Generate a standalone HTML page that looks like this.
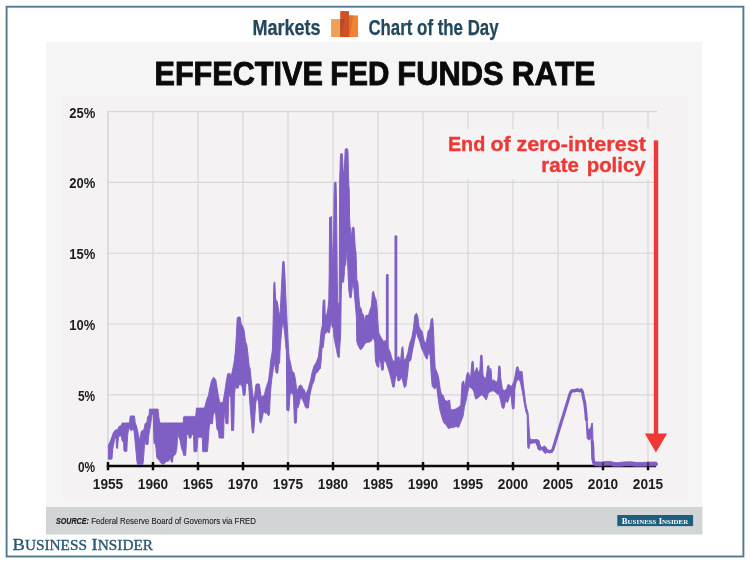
<!DOCTYPE html>
<html><head><meta charset="utf-8"><title>Effective Fed Funds Rate</title>
<style>
html,body{margin:0;padding:0;background:#fff;}
svg{display:block;will-change:transform;}
text{font-family:"Liberation Sans",sans-serif;}
.serif{font-family:"Liberation Serif",serif;}
</style></head><body>
<svg width="750" height="563" viewBox="0 0 750 563">
<rect x="0" y="0" width="750" height="563" fill="#ffffff"/>
<rect x="6.6" y="6.7" width="736.8" height="549.8" fill="none" stroke="#4f7a8f" stroke-width="1.9"/>
<rect x="46" y="42" width="656.3" height="492.5" fill="#f5f5f5"/>
<rect x="61.8" y="96.5" width="625.3" height="401.7" fill="#f4f2f3"/>
<rect x="46" y="507" width="656.3" height="27.5" fill="#d2d5d6"/>
<text x="252.4" y="34.8" font-size="21.6" font-weight="bold" fill="#21485d" stroke="#21485d" stroke-width="0.25" textLength="68.2" lengthAdjust="spacingAndGlyphs">Markets</text>
<g><rect x="331.1" y="19.1" width="9.3" height="18" fill="#f0a055"/><rect x="348.9" y="15.4" width="9.1" height="21.7" fill="#f08432"/><rect x="340.2" y="11.05" width="8.8" height="26.05" fill="#d25029"/><polygon points="340.2,19.1 344.7,19.1 341.2,35.5 340.2,37.1" fill="#b34726" opacity="0.8"/><polygon points="349,15.4 353,15.6 349.9,36.8 349,37.1" fill="#d96f28" opacity="0.85"/></g>
<text x="368.4" y="34.8" font-size="21.6" font-weight="bold" fill="#21485d" stroke="#21485d" stroke-width="0.25" textLength="130.2" lengthAdjust="spacingAndGlyphs">Chart of the Day</text>
<text x="154.5" y="84.6" font-size="33.2" font-weight="bold" fill="#0a0a0a" stroke="#0a0a0a" stroke-width="0.9" textLength="168.4" lengthAdjust="spacingAndGlyphs">EFFECTIVE</text>
<text x="330.2" y="84.6" font-size="33.2" font-weight="bold" fill="#0a0a0a" stroke="#0a0a0a" stroke-width="0.9" textLength="59.2" lengthAdjust="spacingAndGlyphs">FED</text>
<text x="397.3" y="84.6" font-size="33.2" font-weight="bold" fill="#0a0a0a" stroke="#0a0a0a" stroke-width="0.9" textLength="106.2" lengthAdjust="spacingAndGlyphs">FUNDS</text>
<text x="511.8" y="84.6" font-size="33.2" font-weight="bold" fill="#0a0a0a" stroke="#0a0a0a" stroke-width="0.9" textLength="83.6" lengthAdjust="spacingAndGlyphs">RATE</text>
<g><line x1="108.0" y1="111" x2="108.0" y2="466.0" stroke="#ccd0d1" stroke-width="1.2"/><line x1="153.0" y1="111" x2="153.0" y2="466.0" stroke="#d7d7d8" stroke-width="1.2"/><line x1="198.0" y1="111" x2="198.0" y2="466.0" stroke="#d7d7d8" stroke-width="1.2"/><line x1="243.0" y1="111" x2="243.0" y2="466.0" stroke="#d7d7d8" stroke-width="1.2"/><line x1="288.0" y1="111" x2="288.0" y2="466.0" stroke="#d7d7d8" stroke-width="1.2"/><line x1="333.0" y1="111" x2="333.0" y2="466.0" stroke="#d7d7d8" stroke-width="1.2"/><line x1="378.0" y1="111" x2="378.0" y2="466.0" stroke="#d7d7d8" stroke-width="1.2"/><line x1="423.0" y1="111" x2="423.0" y2="466.0" stroke="#d7d7d8" stroke-width="1.2"/><line x1="468.0" y1="111" x2="468.0" y2="466.0" stroke="#d7d7d8" stroke-width="1.2"/><line x1="513.0" y1="111" x2="513.0" y2="466.0" stroke="#d7d7d8" stroke-width="1.2"/><line x1="558.0" y1="111" x2="558.0" y2="466.0" stroke="#d7d7d8" stroke-width="1.2"/><line x1="603.0" y1="111" x2="603.0" y2="466.0" stroke="#d7d7d8" stroke-width="1.2"/><line x1="648.0" y1="111" x2="648.0" y2="466.0" stroke="#d7d7d8" stroke-width="1.2"/><line x1="107.3" y1="111.6" x2="657" y2="111.6" stroke="#d7d7d8" stroke-width="1.15"/><line x1="107.3" y1="182.4" x2="657" y2="182.4" stroke="#d7d7d8" stroke-width="1.15"/><line x1="107.3" y1="253.2" x2="657" y2="253.2" stroke="#d7d7d8" stroke-width="1.15"/><line x1="107.3" y1="324.0" x2="657" y2="324.0" stroke="#d7d7d8" stroke-width="1.15"/><line x1="107.3" y1="394.8" x2="657" y2="394.8" stroke="#d7d7d8" stroke-width="1.15"/></g>
<text x="95.2" y="117.6" font-size="14.4" font-weight="bold" fill="#1e1e1e" text-anchor="end" textLength="26.0" lengthAdjust="spacingAndGlyphs">25%</text>
<text x="95.2" y="188.4" font-size="14.4" font-weight="bold" fill="#1e1e1e" text-anchor="end" textLength="26.0" lengthAdjust="spacingAndGlyphs">20%</text>
<text x="95.2" y="259.2" font-size="14.4" font-weight="bold" fill="#1e1e1e" text-anchor="end" textLength="26.0" lengthAdjust="spacingAndGlyphs">15%</text>
<text x="95.2" y="330.0" font-size="14.4" font-weight="bold" fill="#1e1e1e" text-anchor="end" textLength="26.0" lengthAdjust="spacingAndGlyphs">10%</text>
<text x="95.2" y="400.8" font-size="14.4" font-weight="bold" fill="#1e1e1e" text-anchor="end" textLength="17.2" lengthAdjust="spacingAndGlyphs">5%</text>
<text x="95.2" y="471.6" font-size="14.4" font-weight="bold" fill="#1e1e1e" text-anchor="end" textLength="17.2" lengthAdjust="spacingAndGlyphs">0%</text>
<rect x="443" y="129" width="206.6" height="50.3" fill="#f5f4f5"/>
<g><line x1="106.8" y1="466.0" x2="656" y2="466.0" stroke="#0a0a0a" stroke-width="2.6"/><line x1="108.0" y1="462" x2="108.0" y2="470.2" stroke="#0a0a0a" stroke-width="2.4"/><line x1="153.0" y1="462" x2="153.0" y2="470.2" stroke="#0a0a0a" stroke-width="2.4"/><line x1="198.0" y1="462" x2="198.0" y2="470.2" stroke="#0a0a0a" stroke-width="2.4"/><line x1="243.0" y1="462" x2="243.0" y2="470.2" stroke="#0a0a0a" stroke-width="2.4"/><line x1="288.0" y1="462" x2="288.0" y2="470.2" stroke="#0a0a0a" stroke-width="2.4"/><line x1="333.0" y1="462" x2="333.0" y2="470.2" stroke="#0a0a0a" stroke-width="2.4"/><line x1="378.0" y1="462" x2="378.0" y2="470.2" stroke="#0a0a0a" stroke-width="2.4"/><line x1="423.0" y1="462" x2="423.0" y2="470.2" stroke="#0a0a0a" stroke-width="2.4"/><line x1="468.0" y1="462" x2="468.0" y2="470.2" stroke="#0a0a0a" stroke-width="2.4"/><line x1="513.0" y1="462" x2="513.0" y2="470.2" stroke="#0a0a0a" stroke-width="2.4"/><line x1="558.0" y1="462" x2="558.0" y2="470.2" stroke="#0a0a0a" stroke-width="2.4"/><line x1="603.0" y1="462" x2="603.0" y2="470.2" stroke="#0a0a0a" stroke-width="2.4"/><line x1="648.0" y1="462" x2="648.0" y2="470.2" stroke="#0a0a0a" stroke-width="2.4"/></g>
<polygon points="108.4,444.7 108.8,444.1 109.2,443.4 109.6,442.8 110.0,441.8 110.4,440.9 110.8,440.0 111.2,439.0 111.6,438.0 112.0,436.8 112.4,435.5 112.8,434.2 113.2,433.0 113.6,432.2 114.0,431.7 114.4,431.2 114.8,430.6 115.2,430.1 115.6,430.0 116.0,429.9 116.4,429.8 116.8,429.7 117.2,429.6 117.6,429.5 118.0,428.7 118.4,427.7 118.8,426.7 119.2,426.3 119.6,426.2 120.0,426.1 120.4,426.0 120.8,425.9 121.2,425.0 121.6,424.2 122.0,423.3 122.4,423.0 122.8,423.0 123.2,423.0 123.6,423.0 124.0,423.0 124.4,423.0 124.8,423.0 125.2,423.0 125.6,423.0 126.0,422.9 126.4,422.9 126.8,422.9 127.2,422.9 127.6,422.9 128.0,422.9 128.4,422.9 128.8,422.9 129.2,422.9 129.6,421.9 130.0,418.2 130.4,415.9 130.8,415.9 131.2,415.9 131.6,415.9 132.0,415.9 132.4,415.9 132.8,415.9 133.2,415.9 133.6,415.9 134.0,415.9 134.4,415.9 134.8,419.0 135.2,422.7 135.6,423.9 136.0,425.0 136.4,426.0 136.8,427.3 137.2,429.0 137.6,430.8 138.0,432.6 138.4,434.4 138.8,436.2 139.2,438.1 139.6,439.9 140.0,439.7 140.4,437.1 140.8,434.4 141.2,431.7 141.6,430.9 142.0,430.7 142.4,430.6 142.8,430.5 143.2,430.3 143.6,430.2 144.0,429.1 144.4,427.2 144.8,425.2 145.2,423.4 145.6,423.3 146.0,423.1 146.4,423.0 146.8,422.9 147.2,420.3 147.6,416.8 148.0,416.2 148.4,416.1 148.8,416.0 149.2,413.5 149.6,409.1 150.0,409.1 150.4,409.1 150.8,409.1 151.2,409.1 151.6,409.1 152.0,409.1 152.4,409.1 152.8,409.1 153.2,409.1 153.6,409.1 154.0,409.1 154.4,409.1 154.8,409.1 155.2,409.1 155.6,409.1 156.0,409.1 156.4,409.1 156.8,409.1 157.2,409.1 157.6,409.1 158.0,409.1 158.4,412.7 158.8,417.1 159.2,419.3 159.6,421.5 160.0,422.9 160.4,422.9 160.8,422.9 161.2,422.9 161.6,422.9 162.0,422.9 162.4,422.9 162.8,422.9 163.2,422.9 163.6,422.9 164.0,422.9 164.4,422.9 164.8,422.9 165.2,422.9 165.6,422.9 166.0,422.9 166.4,422.9 166.8,422.9 167.2,422.9 167.6,422.9 168.0,422.9 168.4,422.9 168.8,422.9 169.2,422.9 169.6,422.9 170.0,422.9 170.4,422.9 170.8,422.9 171.2,422.9 171.6,422.9 172.0,422.9 172.4,422.9 172.8,422.9 173.2,422.9 173.6,422.9 174.0,422.9 174.4,422.9 174.8,422.9 175.2,422.9 175.6,422.9 176.0,422.9 176.4,422.9 176.8,422.9 177.2,422.9 177.6,422.9 178.0,422.9 178.4,422.9 178.8,422.9 179.2,422.9 179.6,422.9 180.0,422.9 180.4,422.9 180.8,422.9 181.2,422.9 181.6,422.9 182.0,422.9 182.4,422.9 182.8,422.9 183.2,423.0 183.6,417.0 184.0,416.4 184.4,416.4 184.8,416.4 185.2,416.4 185.6,416.4 186.0,416.4 186.4,416.4 186.8,416.4 187.2,416.4 187.6,416.4 188.0,416.4 188.4,416.4 188.8,416.4 189.2,416.4 189.6,416.4 190.0,416.4 190.4,416.4 190.8,416.4 191.2,416.4 191.6,416.4 192.0,416.4 192.4,416.4 192.8,416.4 193.2,416.4 193.6,416.4 194.0,416.4 194.4,416.4 194.8,416.4 195.2,416.4 195.6,416.4 196.0,413.7 196.4,408.1 196.8,408.1 197.2,408.1 197.6,408.1 198.0,408.1 198.4,408.1 198.8,408.1 199.2,408.1 199.6,408.1 200.0,408.1 200.4,408.1 200.8,408.1 201.2,408.1 201.6,408.1 202.0,408.1 202.4,408.1 202.8,408.1 203.2,408.1 203.6,408.1 204.0,408.1 204.4,407.6 204.8,406.8 205.2,405.5 205.6,403.9 206.0,402.3 206.4,400.7 206.8,399.4 207.2,398.2 207.6,396.9 208.0,397.9 208.4,395.7 208.8,393.5 209.2,391.3 209.6,389.1 210.0,387.1 210.4,385.5 210.8,383.9 211.2,382.3 211.6,380.7 212.0,379.9 212.4,379.2 212.8,378.6 213.2,377.9 213.6,377.3 214.0,377.6 214.4,378.1 214.8,378.5 215.2,378.9 215.6,379.4 216.0,381.1 216.4,383.7 216.8,386.3 217.2,388.8 217.6,391.3 218.0,393.8 218.4,396.3 218.8,398.1 219.2,399.8 219.6,401.6 220.0,402.6 220.4,402.6 220.8,402.6 221.2,402.6 221.6,402.6 222.0,402.6 222.4,402.6 222.8,402.6 223.2,400.8 223.6,398.6 224.0,396.4 224.4,394.2 224.8,391.7 225.2,388.9 225.6,386.1 226.0,383.3 226.4,380.5 226.8,378.3 227.2,376.2 227.6,374.0 228.0,373.6 228.4,373.6 228.8,373.5 229.2,373.4 229.6,373.4 230.0,373.4 230.4,374.6 230.8,375.7 231.2,376.9 231.6,374.9 232.0,372.9 232.4,370.9 232.8,368.9 233.2,366.9 233.6,364.9 234.0,362.9 234.4,359.6 234.8,356.1 235.2,352.6 235.6,348.1 236.0,341.4 236.4,334.7 236.8,326.9 237.2,318.4 237.6,317.3 238.0,317.2 238.4,317.2 238.8,317.1 239.2,317.0 239.6,316.9 240.0,316.9 240.4,318.8 240.8,321.3 241.2,323.7 241.6,324.4 242.0,325.1 242.4,325.8 242.8,326.6 243.2,327.6 243.6,328.9 244.0,330.1 244.4,332.6 244.8,336.1 245.2,339.5 245.6,341.8 246.0,342.8 246.4,343.8 246.8,344.8 247.2,347.9 247.6,351.3 248.0,354.7 248.4,358.7 248.8,362.7 249.2,366.3 249.6,367.2 250.0,368.1 250.4,372.1 250.8,376.1 251.2,380.1 251.6,384.1 252.0,387.9 252.4,390.9 252.8,393.9 253.2,396.9 253.6,397.4 254.0,397.9 254.4,398.4 254.8,395.0 255.2,390.8 255.6,386.5 256.0,384.7 256.4,384.3 256.8,384.0 257.2,383.8 257.6,383.8 258.0,383.9 258.4,383.9 258.8,384.0 259.2,384.1 259.6,386.3 260.0,388.9 260.4,391.6 260.8,394.3 261.2,396.9 261.6,396.7 262.0,396.5 262.4,396.3 262.8,396.1 263.2,395.9 263.6,395.7 264.0,395.5 264.4,395.2 264.8,393.2 265.2,391.2 265.6,389.2 266.0,387.9 266.4,386.7 266.8,385.5 267.2,384.3 267.6,383.2 268.0,382.2 268.4,381.2 268.8,378.6 269.2,375.1 269.6,371.6 270.0,367.9 270.4,363.9 270.8,360.0 271.2,357.6 271.6,355.2 272.0,352.8 272.4,349.8 272.8,336.0 273.2,319.5 273.6,292.8 274.0,282.4 274.4,282.2 274.8,282.1 275.2,289.8 275.6,298.0 276.0,299.9 276.4,300.4 276.8,300.9 277.2,301.4 277.6,303.2 278.0,306.1 278.4,308.9 278.8,311.8 279.2,312.9 279.6,313.5 280.0,314.2 280.4,309.2 280.8,300.9 281.2,292.5 281.6,284.3 282.0,276.1 282.4,267.9 282.8,261.6 283.2,261.4 283.6,261.3 284.0,261.4 284.4,267.4 284.8,273.4 285.2,282.4 285.6,291.7 286.0,301.1 286.4,309.4 286.8,317.4 287.2,325.0 287.6,332.2 288.0,339.4 288.4,345.9 288.8,352.3 289.2,357.5 289.6,359.3 290.0,361.0 290.4,362.8 290.8,364.5 291.2,366.3 291.6,368.3 292.0,370.3 292.4,371.4 292.8,371.8 293.2,372.1 293.6,372.4 294.0,372.8 294.4,374.3 294.8,376.3 295.2,378.3 295.6,381.0 296.0,384.3 296.4,387.4 296.8,388.4 297.2,389.4 297.6,390.4 298.0,389.3 298.4,388.1 298.8,386.8 299.2,386.1 299.6,385.6 300.0,385.1 300.4,385.0 300.8,385.2 301.2,385.4 301.6,385.6 302.0,386.2 302.4,387.2 302.8,388.2 303.2,388.9 303.6,389.2 304.0,389.4 304.4,389.8 304.8,391.1 305.2,392.3 305.6,393.6 306.0,393.2 306.4,392.7 306.8,392.2 307.2,391.3 307.6,390.3 308.0,389.3 308.4,388.1 308.8,386.6 309.2,385.1 309.6,383.6 310.0,382.1 310.4,380.6 310.8,379.0 311.2,377.0 311.6,375.0 312.0,373.0 312.4,371.5 312.8,370.0 313.2,368.5 313.6,367.3 314.0,366.3 314.4,365.3 314.8,364.6 315.2,364.1 315.6,363.6 316.0,362.9 316.4,361.9 316.8,360.9 317.2,359.9 317.6,358.7 318.0,357.5 318.4,356.3 318.8,353.8 319.2,349.1 319.6,346.6 320.0,344.2 320.4,338.3 320.8,334.4 321.2,330.5 321.6,328.3 322.0,326.8 322.4,325.3 322.8,308.3 323.2,300.2 323.6,300.1 324.0,300.0 324.4,300.0 324.8,299.9 325.2,315.5 325.6,315.3 326.0,315.1 326.4,314.9 326.8,314.3 327.2,312.3 327.6,310.2 328.0,308.2 328.4,303.9 328.8,299.7 329.2,273.9 329.6,217.4 330.0,217.3 330.4,217.1 330.8,216.9 331.2,216.7 331.6,216.5 332.0,240.5 332.4,255.2 332.8,262.5 333.2,262.5 333.6,245.7 334.0,196.0 334.4,183.3 334.8,182.2 335.2,182.2 335.6,182.2 336.0,182.2 336.4,197.9 336.8,230.7 337.2,275.5 337.6,301.4 338.0,303.1 338.4,304.8 338.8,306.5 339.2,301.2 339.6,182.5 340.0,169.4 340.4,156.2 340.8,153.7 341.2,153.6 341.6,153.5 342.0,153.4 342.4,156.0 342.8,163.2 343.2,170.4 343.6,172.2 344.0,171.9 344.4,171.0 344.8,158.5 345.2,149.3 345.6,149.0 346.0,148.6 346.4,148.6 346.8,148.7 347.2,148.8 347.6,148.9 348.0,152.4 348.4,172.6 348.8,185.4 349.2,188.5 349.6,217.8 350.0,226.5 350.4,227.5 350.8,233.1 351.2,238.9 351.6,236.2 352.0,230.4 352.4,227.5 352.8,227.4 353.2,227.3 353.6,227.3 354.0,227.6 354.4,233.3 354.8,240.2 355.2,247.2 355.6,249.9 356.0,252.6 356.4,264.4 356.8,279.4 357.2,280.5 357.6,281.2 358.0,283.8 358.4,290.8 358.8,296.6 359.2,301.2 359.6,305.9 360.0,307.0 360.4,307.5 360.8,308.0 361.2,308.9 361.6,310.9 362.0,312.9 362.4,313.8 362.8,314.1 363.2,314.3 363.6,314.8 364.0,317.8 364.4,320.8 364.8,321.4 365.2,318.7 365.6,316.1 366.0,315.4 366.4,315.3 366.8,315.3 367.2,315.2 367.6,315.2 368.0,315.1 368.4,315.1 368.8,314.2 369.2,312.8 369.6,311.4 370.0,310.0 370.4,309.0 370.8,308.0 371.2,307.0 371.6,303.6 372.0,298.3 372.4,292.9 372.8,291.9 373.2,291.3 373.6,291.3 374.0,293.2 374.4,295.1 374.8,296.5 375.2,297.5 375.6,298.5 376.0,299.5 376.4,302.1 376.8,304.8 377.2,309.3 377.6,317.3 378.0,323.6 378.4,328.7 378.8,333.0 379.2,333.8 379.6,334.6 380.0,335.4 380.4,336.2 380.8,337.0 381.2,337.8 381.6,338.4 382.0,339.0 382.4,339.6 382.8,340.2 383.2,340.8 383.6,341.4 384.0,341.3 384.4,341.0 384.8,340.8 385.2,340.5 385.6,340.7 386.0,341.7 386.4,342.7 386.8,343.7 387.2,344.7 387.6,345.7 388.0,346.7 388.4,347.7 388.8,348.7 389.2,349.7 389.6,350.7 390.0,351.7 390.4,352.7 390.8,354.2 391.2,355.7 391.6,357.2 392.0,358.7 392.4,360.2 392.8,360.4 393.2,360.7 393.6,360.9 394.0,361.2 394.4,361.4 394.8,360.9 395.2,360.4 395.6,359.9 396.0,359.4 396.4,358.9 396.8,358.4 397.2,357.9 397.6,357.5 398.0,357.2 398.4,356.9 398.8,356.5 399.2,357.8 399.6,359.5 400.0,361.1 400.4,362.3 400.8,358.3 401.2,354.3 401.6,350.3 402.0,347.6 402.4,347.1 402.8,346.6 403.2,351.3 403.6,356.8 404.0,360.1 404.4,359.8 404.8,359.6 405.2,359.3 405.6,359.1 406.0,358.4 406.4,357.2 406.8,355.9 407.2,354.7 407.6,353.4 408.0,351.9 408.4,349.9 408.8,347.9 409.2,345.9 409.6,343.9 410.0,342.3 410.4,341.3 410.8,340.3 411.2,339.3 411.6,338.3 412.0,336.7 412.4,334.4 412.8,332.1 413.2,329.8 413.6,327.3 414.0,323.3 414.4,319.3 414.8,315.4 415.2,314.7 415.6,314.1 416.0,313.4 416.4,313.2 416.8,314.0 417.2,314.8 417.6,315.6 418.0,318.1 418.4,321.9 418.8,325.4 419.2,326.4 419.6,327.4 420.0,328.4 420.4,329.3 420.8,329.8 421.2,330.3 421.6,330.8 422.0,331.3 422.4,332.3 422.8,334.3 423.2,336.3 423.6,338.3 424.0,340.3 424.4,341.6 424.8,341.9 425.2,342.1 425.6,342.4 426.0,342.6 426.4,341.7 426.8,339.2 427.2,336.7 427.6,334.2 428.0,331.7 428.4,330.3 428.8,330.2 429.2,330.0 429.6,329.9 430.0,327.8 430.4,324.9 430.8,322.1 431.2,319.2 431.6,318.8 432.0,318.5 432.4,318.2 432.8,319.5 433.2,325.5 433.6,331.5 434.0,343.6 434.4,353.9 434.8,360.9 435.2,367.7 435.6,368.7 436.0,369.7 436.4,370.7 436.8,371.7 437.2,372.7 437.6,374.0 438.0,375.4 438.4,376.7 438.8,378.6 439.2,381.6 439.6,384.6 440.0,387.6 440.4,389.8 440.8,391.5 441.2,393.1 441.6,394.8 442.0,395.0 442.4,395.0 442.8,395.0 443.2,395.2 443.6,396.5 444.0,397.9 444.4,399.2 444.8,400.1 445.2,400.3 445.6,400.5 446.0,400.7 446.4,400.9 446.8,401.1 447.2,401.2 447.6,401.0 448.0,400.8 448.4,400.6 448.8,400.4 449.2,400.2 449.6,400.0 450.0,403.9 450.4,407.9 450.8,409.9 451.2,409.9 451.6,409.8 452.0,409.8 452.4,409.7 452.8,409.7 453.2,409.6 453.6,409.6 454.0,409.5 454.4,409.5 454.8,409.3 455.2,409.1 455.6,408.9 456.0,408.7 456.4,408.5 456.8,408.2 457.2,408.0 457.6,407.8 458.0,407.6 458.4,407.4 458.8,407.0 459.2,406.6 459.6,406.2 460.0,405.8 460.4,405.4 460.8,404.9 461.2,397.7 461.6,390.5 462.0,383.3 462.4,382.1 462.8,381.6 463.2,381.0 463.6,380.9 464.0,382.7 464.4,384.6 464.8,386.5 465.2,386.1 465.6,382.8 466.0,379.4 466.4,376.1 466.8,374.5 467.2,373.7 467.6,372.9 468.0,372.1 468.4,372.9 468.8,373.7 469.2,374.5 469.6,375.5 470.0,376.9 470.4,378.4 470.8,375.4 471.2,370.1 471.6,364.7 472.0,361.7 472.4,361.3 472.8,361.0 473.2,362.1 473.6,367.6 474.0,372.4 474.4,371.9 474.8,371.4 475.2,370.9 475.6,370.4 476.0,369.5 476.4,368.5 476.8,367.5 477.2,368.2 477.6,369.9 478.0,371.6 478.4,372.2 478.8,371.7 479.2,371.2 479.6,370.7 480.0,368.4 480.4,359.1 480.8,355.3 481.2,355.2 481.6,355.1 482.0,355.0 482.4,363.0 482.8,372.2 483.2,375.3 483.6,376.3 484.0,377.3 484.4,378.3 484.8,378.6 485.2,378.1 485.6,377.6 486.0,377.1 486.4,376.0 486.8,372.7 487.2,369.3 487.6,366.1 488.0,365.9 488.4,365.8 488.8,365.7 489.2,367.5 489.6,369.7 490.0,369.9 490.4,369.2 490.8,368.5 491.2,371.2 491.6,377.2 492.0,380.9 492.4,380.7 492.8,380.5 493.2,380.3 493.6,380.1 494.0,379.9 494.4,380.3 494.8,380.7 495.2,381.1 495.6,381.5 496.0,381.9 496.4,381.9 496.8,381.6 497.2,381.4 497.6,381.1 498.0,377.9 498.4,370.9 498.8,366.0 499.2,365.9 499.6,365.8 500.0,366.4 500.4,372.6 500.8,378.8 501.2,381.3 501.6,383.8 502.0,386.3 502.4,388.8 502.8,389.7 503.2,389.9 503.6,390.1 504.0,390.3 504.4,390.5 504.8,390.4 505.2,390.0 505.6,389.6 506.0,389.2 506.4,388.8 506.8,388.4 507.2,387.0 507.6,385.7 508.0,384.4 508.4,384.4 508.8,384.7 509.2,384.9 509.6,385.2 510.0,385.4 510.4,385.6 510.8,385.8 511.2,386.0 511.6,386.2 512.0,386.0 512.4,385.0 512.8,384.0 513.2,383.0 513.6,382.0 514.0,381.0 514.4,379.1 514.8,377.1 515.2,375.1 515.6,372.8 516.0,370.5 516.4,368.2 516.8,367.0 517.2,366.8 517.6,366.6 518.0,367.1 518.4,368.6 518.8,370.1 519.2,371.4 519.6,371.4 520.0,371.4 520.4,371.4 520.8,371.4 521.2,371.4 521.6,371.4 522.0,371.4 522.4,374.6 522.8,379.1 523.2,382.9 523.6,386.2 524.0,389.6 524.4,392.9 524.8,396.2 525.2,399.6 525.6,402.7 526.0,404.7 526.4,406.7 526.8,408.7 527.2,410.0 527.6,411.3 528.0,412.7 528.4,417.7 528.8,423.7 529.2,429.7 529.6,435.7 530.0,438.7 530.4,438.9 530.8,439.2 531.2,439.4 531.6,439.6 532.0,439.6 532.4,439.6 532.8,439.6 533.2,439.6 533.6,439.6 534.0,439.6 534.4,439.6 534.8,439.6 535.2,439.6 535.6,439.6 536.0,439.6 536.4,439.6 536.8,439.6 537.2,439.6 537.6,439.7 538.0,439.9 538.4,440.2 538.8,440.4 539.2,440.9 539.6,443.9 540.0,446.9 540.4,447.2 540.8,447.3 541.2,447.4 541.6,447.4 542.0,447.2 542.4,447.1 542.8,446.9 543.2,446.6 543.6,446.4 544.0,446.2 544.4,446.1 544.8,446.3 545.2,446.6 545.6,446.8 546.0,447.1 546.4,448.1 546.8,449.1 547.2,449.7 547.6,449.9 548.0,450.0 548.4,450.2 548.8,450.3 549.2,450.5 549.6,450.5 550.0,450.5 550.4,450.4 550.8,450.4 551.2,450.3 551.6,450.2 552.0,449.5 552.4,448.9 552.8,448.3 553.2,447.3 553.6,446.0 554.0,444.7 554.4,443.4 554.8,442.1 555.2,440.7 555.6,439.4 556.0,438.1 556.4,436.8 556.8,435.5 557.2,434.2 557.6,432.9 558.0,431.6 558.4,430.3 558.8,429.0 559.2,427.7 559.6,426.4 560.0,425.1 560.4,423.8 560.8,422.5 561.2,421.2 561.6,419.9 562.0,418.6 562.4,417.4 562.8,416.1 563.2,414.8 563.6,413.5 564.0,412.2 564.4,410.9 564.8,409.6 565.2,408.3 565.6,407.0 566.0,405.7 566.4,404.4 566.8,403.1 567.2,401.8 567.6,400.5 568.0,399.2 568.4,397.9 568.8,396.6 569.2,395.3 569.6,394.0 570.0,392.7 570.4,391.7 570.8,391.0 571.2,390.4 571.6,390.0 572.0,389.8 572.4,389.6 572.8,389.5 573.2,389.5 573.6,389.4 574.0,389.4 574.4,389.4 574.8,389.4 575.2,389.4 575.6,389.3 576.0,389.2 576.4,389.1 576.8,389.0 577.2,388.9 577.6,388.8 578.0,388.8 578.4,389.1 578.8,389.3 579.2,389.6 579.6,389.6 580.0,389.4 580.4,389.2 580.8,389.0 581.2,388.8 581.6,389.0 582.0,389.7 582.4,390.5 582.8,392.4 583.2,395.2 583.6,397.2 584.0,398.7 584.4,400.2 584.8,402.2 585.2,405.1 585.6,408.0 586.0,411.2 586.4,414.6 586.8,418.1 587.2,421.9 587.6,425.9 588.0,428.7 588.4,429.4 588.8,430.0 589.2,429.6 589.6,429.1 590.0,428.6 590.4,427.9 590.8,427.3 591.2,425.9 591.6,423.4 592.0,423.0 592.4,423.2 592.8,433.4 593.2,455.6 593.6,460.3 594.0,460.9 594.4,461.5 594.8,461.8 595.2,461.8 595.6,461.8 596.0,461.8 596.4,461.8 596.8,461.9 597.2,461.9 597.6,461.9 598.0,461.9 598.4,461.9 598.8,462.0 599.2,462.0 599.6,462.0 600.0,462.0 600.4,462.0 600.8,462.1 601.2,462.0 601.6,462.0 602.0,461.9 602.4,461.9 602.8,461.8 603.2,461.8 603.6,461.7 604.0,461.7 604.4,461.6 604.8,461.6 605.2,461.5 605.6,461.5 606.0,461.4 606.4,461.4 606.8,461.4 607.2,461.4 607.6,461.4 608.0,461.4 608.4,461.4 608.8,461.4 609.2,461.4 609.6,461.4 610.0,461.4 610.4,461.4 610.8,461.5 611.2,461.6 611.6,461.7 612.0,461.9 612.4,462.0 612.8,462.1 613.2,462.2 613.6,462.3 614.0,462.4 614.4,462.5 614.8,462.5 615.2,462.5 615.6,462.6 616.0,462.6 616.4,462.7 616.8,462.7 617.2,462.7 617.6,462.6 618.0,462.6 618.4,462.6 618.8,462.5 619.2,462.5 619.6,462.4 620.0,462.4 620.4,462.4 620.8,462.3 621.2,462.3 621.6,462.2 622.0,462.2 622.4,462.2 622.8,462.1 623.2,462.1 623.6,462.0 624.0,462.0 624.4,462.0 624.8,461.9 625.2,461.9 625.6,461.8 626.0,461.8 626.4,461.8 626.8,461.8 627.2,461.8 627.6,461.8 628.0,461.8 628.4,461.8 628.8,461.8 629.2,461.8 629.6,461.8 630.0,461.8 630.4,461.8 630.8,461.8 631.2,461.8 631.6,461.8 632.0,461.8 632.4,461.9 632.8,461.9 633.2,462.0 633.6,462.1 634.0,462.1 634.4,462.2 634.8,462.2 635.2,462.3 635.6,462.3 636.0,462.4 636.4,462.4 636.8,462.4 637.2,462.4 637.6,462.4 638.0,462.4 638.4,462.4 638.8,462.4 639.2,462.4 639.6,462.4 640.0,462.4 640.4,462.4 640.8,462.4 641.2,462.4 641.6,462.4 642.0,462.4 642.4,462.4 642.8,462.4 643.2,462.4 643.6,462.3 644.0,462.3 644.4,462.3 644.8,462.3 645.2,462.3 645.6,462.2 646.0,462.2 646.4,462.2 646.8,462.2 647.2,462.2 647.6,462.1 648.0,462.1 648.4,462.1 648.8,462.1 649.2,462.1 649.6,462.1 650.0,462.1 650.4,462.1 650.8,462.1 651.2,462.1 651.6,462.1 652.0,462.1 652.4,462.1 652.8,462.1 653.2,462.1 653.6,462.1 654.0,462.1 654.4,462.1 654.8,462.1 655.2,462.1 655.6,462.1 656.0,462.1 656.4,462.1 656.4,466.0 656.0,466.0 655.6,466.0 655.2,466.0 654.8,466.0 654.4,466.0 654.0,466.0 653.6,466.0 653.2,466.0 652.8,466.0 652.4,466.0 652.0,466.0 651.6,466.0 651.2,466.0 650.8,466.0 650.4,466.0 650.0,466.0 649.6,466.0 649.2,466.0 648.8,466.0 648.4,466.0 648.0,466.0 647.6,466.0 647.2,466.1 646.8,466.1 646.4,466.1 646.0,466.1 645.6,466.1 645.2,466.2 644.8,466.2 644.4,466.2 644.0,466.2 643.6,466.2 643.2,466.2 642.8,466.2 642.4,466.2 642.0,466.2 641.6,466.2 641.2,466.2 640.8,466.2 640.4,466.2 640.0,466.2 639.6,466.2 639.2,466.2 638.8,466.2 638.4,466.2 638.0,466.2 637.6,466.2 637.2,466.2 636.8,466.2 636.4,466.2 636.0,466.2 635.6,466.2 635.2,466.2 634.8,466.1 634.4,466.1 634.0,466.0 633.6,466.0 633.2,465.9 632.8,465.8 632.4,465.8 632.0,465.7 631.6,465.7 631.2,465.7 630.8,465.7 630.4,465.7 630.0,465.7 629.6,465.7 629.2,465.7 628.8,465.7 628.4,465.7 628.0,465.7 627.6,465.7 627.2,465.7 626.8,465.7 626.4,465.7 626.0,465.7 625.6,465.7 625.2,465.8 624.8,465.8 624.4,465.9 624.0,465.9 623.6,465.9 623.2,466.0 622.8,466.0 622.4,466.1 622.0,466.1 621.6,466.1 621.2,466.2 620.8,466.2 620.4,466.2 620.0,466.2 619.6,466.2 619.2,466.2 618.8,466.2 618.4,466.2 618.0,466.2 617.6,466.2 617.2,466.2 616.8,466.2 616.4,466.2 616.0,466.2 615.6,466.2 615.2,466.2 614.8,466.2 614.4,466.2 614.0,466.2 613.6,466.2 613.2,466.1 612.8,466.0 612.4,465.9 612.0,465.8 611.6,465.6 611.2,465.5 610.8,465.4 610.4,465.3 610.0,465.3 609.6,465.3 609.2,465.3 608.8,465.3 608.4,465.3 608.0,465.3 607.6,465.3 607.2,465.3 606.8,465.3 606.4,465.3 606.0,465.3 605.6,465.4 605.2,465.4 604.8,465.5 604.4,465.5 604.0,465.6 603.6,465.6 603.2,465.7 602.8,465.7 602.4,465.8 602.0,465.8 601.6,465.9 601.2,465.9 600.8,466.0 600.4,465.9 600.0,465.9 599.6,465.9 599.2,465.9 598.8,465.9 598.4,465.8 598.0,465.8 597.6,465.8 597.2,465.8 596.8,465.8 596.4,465.7 596.0,465.7 595.6,465.7 595.2,465.7 594.8,465.7 594.4,465.4 594.0,464.8 593.6,464.2 593.2,463.4 592.8,462.1 592.4,460.8 592.0,459.3 591.6,451.3 591.2,439.9 590.8,435.3 590.4,437.6 590.0,439.5 589.6,439.6 589.2,439.8 588.8,439.9 588.4,439.6 588.0,439.3 587.6,439.0 587.2,438.4 586.8,431.4 586.4,424.7 586.0,418.3 585.6,412.9 585.2,409.0 584.8,405.0 584.4,402.6 584.0,401.1 583.6,399.6 583.2,397.6 582.8,394.8 582.4,392.9 582.0,392.1 581.6,391.4 581.2,391.2 580.8,391.4 580.4,391.6 580.0,391.8 579.6,392.0 579.2,392.0 578.8,391.7 578.4,391.5 578.0,391.2 577.6,391.2 577.2,391.3 576.8,391.4 576.4,391.5 576.0,391.6 575.6,391.7 575.2,391.8 574.8,391.8 574.4,391.8 574.0,391.8 573.6,391.8 573.2,391.9 572.8,391.9 572.4,392.0 572.0,392.2 571.6,392.4 571.2,392.8 570.8,393.4 570.4,394.1 570.0,395.1 569.6,396.4 569.2,397.7 568.8,399.0 568.4,400.3 568.0,401.6 567.6,402.9 567.2,404.2 566.8,405.5 566.4,406.8 566.0,408.1 565.6,409.4 565.2,410.7 564.8,412.0 564.4,413.3 564.0,414.6 563.6,415.9 563.2,417.2 562.8,418.5 562.4,419.8 562.0,421.0 561.6,422.3 561.2,423.6 560.8,424.9 560.4,426.2 560.0,427.5 559.6,428.8 559.2,430.1 558.8,431.4 558.4,432.7 558.0,434.0 557.6,435.3 557.2,436.6 556.8,437.9 556.4,439.2 556.0,440.5 555.6,441.8 555.2,443.1 554.8,444.5 554.4,445.8 554.0,447.1 553.6,448.4 553.2,449.7 552.8,450.7 552.4,451.2 552.0,451.8 551.6,452.4 551.2,452.5 550.8,452.6 550.4,452.6 550.0,452.7 549.6,452.7 549.2,452.7 548.8,452.5 548.4,452.4 548.0,452.2 547.6,452.1 547.2,451.9 546.8,452.0 546.4,452.5 546.0,453.0 545.6,453.5 545.2,453.3 544.8,453.0 544.4,452.8 544.0,452.5 543.6,452.0 543.2,451.2 542.8,450.5 542.4,449.7 542.0,449.4 541.6,449.6 541.2,449.7 540.8,449.9 540.4,450.1 540.0,450.3 539.6,450.1 539.2,449.9 538.8,449.7 538.4,449.5 538.0,449.3 537.6,447.8 537.2,445.8 536.8,443.8 536.4,442.9 536.0,442.9 535.6,442.9 535.2,442.9 534.8,442.9 534.4,442.9 534.0,442.9 533.6,442.9 533.2,442.9 532.8,443.0 532.4,443.1 532.0,443.2 531.6,443.4 531.2,443.5 530.8,443.6 530.4,443.7 530.0,443.9 529.6,445.0 529.2,447.2 528.8,448.6 528.4,448.4 528.0,448.3 527.6,443.6 527.2,415.1 526.8,414.1 526.4,413.1 526.0,412.1 525.6,410.2 525.2,408.2 524.8,406.2 524.4,404.2 524.0,401.8 523.6,399.1 523.2,396.4 522.8,394.1 522.4,392.1 522.0,390.1 521.6,388.1 521.2,386.1 520.8,384.1 520.4,382.1 520.0,381.5 519.6,380.9 519.2,380.3 518.8,379.7 518.4,379.1 518.0,379.4 517.6,380.0 517.2,380.6 516.8,381.2 516.4,381.8 516.0,382.9 515.6,384.9 515.2,386.9 514.8,390.2 514.4,399.7 514.0,408.8 513.6,408.8 513.2,408.8 512.8,408.8 512.4,408.8 512.0,405.4 511.6,401.0 511.2,396.7 510.8,395.2 510.4,395.7 510.0,396.2 509.6,396.7 509.2,397.5 508.8,398.7 508.4,400.0 508.0,401.2 507.6,402.4 507.2,402.2 506.8,402.0 506.4,401.8 506.0,401.6 505.6,401.4 505.2,402.6 504.8,404.3 504.4,406.1 504.0,407.8 503.6,408.6 503.2,408.4 502.8,408.1 502.4,407.9 502.0,407.3 501.6,405.3 501.2,403.3 500.8,401.3 500.4,399.8 500.0,398.3 499.6,396.8 499.2,395.3 498.8,394.8 498.4,394.6 498.0,394.4 497.6,394.2 497.2,394.0 496.8,393.7 496.4,393.3 496.0,392.9 495.6,392.5 495.2,392.1 494.8,391.7 494.4,391.5 494.0,391.3 493.6,391.1 493.2,390.9 492.8,390.7 492.4,390.8 492.0,391.0 491.6,391.2 491.2,391.4 490.8,391.6 490.4,391.8 490.0,392.0 489.6,392.2 489.2,392.4 488.8,392.6 488.4,392.9 488.0,394.3 487.6,395.7 487.2,397.1 486.8,398.5 486.4,399.9 486.0,399.8 485.6,399.2 485.2,398.6 484.8,398.0 484.4,397.4 484.0,396.9 483.6,396.5 483.2,396.1 482.8,395.7 482.4,395.3 482.0,394.9 481.6,395.1 481.2,395.3 480.8,395.5 480.4,395.7 480.0,395.9 479.6,396.3 479.2,396.7 478.8,397.1 478.4,397.5 478.0,397.9 477.6,398.2 477.2,398.4 476.8,398.6 476.4,398.8 476.0,399.0 475.6,399.0 475.2,397.4 474.8,395.8 474.4,394.2 474.0,392.6 473.6,391.0 473.2,390.3 472.8,389.9 472.4,389.5 472.0,389.1 471.6,388.7 471.2,388.3 470.8,387.9 470.4,387.5 470.0,387.1 469.6,386.7 469.2,386.6 468.8,388.1 468.4,389.6 468.0,391.1 467.6,392.6 467.2,394.9 466.8,397.3 466.4,399.4 466.0,400.9 465.6,402.4 465.2,403.9 464.8,405.4 464.4,407.3 464.0,410.0 463.6,412.6 463.2,415.3 462.8,417.0 462.4,418.0 462.0,419.0 461.6,420.0 461.2,421.0 460.8,422.0 460.4,423.0 460.0,424.0 459.6,425.0 459.2,426.0 458.8,427.0 458.4,427.5 458.0,427.3 457.6,427.1 457.2,426.9 456.8,426.7 456.4,426.5 456.0,426.4 455.6,426.6 455.2,426.8 454.8,427.0 454.4,427.2 454.0,427.4 453.6,427.6 453.2,427.6 452.8,427.6 452.4,427.6 452.0,427.6 451.6,427.6 451.2,427.6 450.8,427.7 450.4,427.9 450.0,428.1 449.6,428.3 449.2,428.5 448.8,428.7 448.4,428.5 448.0,427.9 447.6,427.3 447.2,426.7 446.8,426.1 446.4,425.5 446.0,425.0 445.6,424.6 445.2,424.2 444.8,423.8 444.4,423.4 444.0,423.0 443.6,422.5 443.2,421.2 442.8,420.0 442.4,418.7 442.0,417.5 441.6,416.2 441.2,414.7 440.8,413.2 440.4,411.7 440.0,410.2 439.6,408.5 439.2,405.9 438.8,403.2 438.4,400.5 438.0,397.6 437.6,394.2 437.2,390.9 436.8,387.6 436.4,386.9 436.0,387.4 435.6,387.9 435.2,388.4 434.8,388.9 434.4,388.7 434.0,388.3 433.6,387.9 433.2,387.5 432.8,387.1 432.4,386.7 432.0,384.0 431.6,379.0 431.2,374.0 430.8,366.5 430.4,359.0 430.0,354.9 429.6,353.9 429.2,352.9 428.8,351.9 428.4,353.3 428.0,355.3 427.6,357.3 427.2,359.2 426.8,358.8 426.4,358.5 426.0,358.2 425.6,357.6 425.2,356.6 424.8,355.6 424.4,354.6 424.0,353.6 423.6,352.7 423.2,351.9 422.8,351.2 422.4,350.4 422.0,349.7 421.6,348.7 421.2,347.2 420.8,345.7 420.4,344.2 420.0,342.7 419.6,341.4 419.2,340.4 418.8,339.4 418.4,338.4 418.0,337.4 417.6,336.2 417.2,334.9 416.8,333.6 416.4,332.2 416.0,333.2 415.6,335.2 415.2,337.2 414.8,339.2 414.4,341.2 414.0,343.2 413.6,345.2 413.2,347.2 412.8,349.2 412.4,351.2 412.0,353.5 411.6,355.8 411.2,358.2 410.8,360.4 410.4,360.7 410.0,360.9 409.6,361.2 409.2,361.4 408.8,361.9 408.4,365.9 408.0,369.9 407.6,373.9 407.2,377.5 406.8,380.1 406.4,382.8 406.0,385.5 405.6,386.7 405.2,387.1 404.8,387.4 404.4,387.7 404.0,386.3 403.6,384.7 403.2,383.0 402.8,381.4 402.4,380.1 402.0,378.7 401.6,377.4 401.2,377.0 400.8,378.0 400.4,379.0 400.0,380.0 399.6,380.4 399.2,380.6 398.8,380.7 398.4,380.9 398.0,381.0 397.6,378.6 397.2,375.0 396.8,373.4 396.4,375.0 396.0,376.6 395.6,378.2 395.2,379.8 394.8,382.5 394.4,385.3 394.0,387.3 393.6,387.2 393.2,387.1 392.8,387.0 392.4,385.5 392.0,383.5 391.6,381.5 391.2,379.6 390.8,378.0 390.4,376.4 390.0,374.8 389.6,373.2 389.2,371.9 388.8,370.7 388.4,369.5 388.0,368.3 387.6,367.1 387.2,365.9 386.8,364.7 386.4,363.5 386.0,362.3 385.6,361.8 385.2,361.5 384.8,361.2 384.4,360.8 384.0,360.5 383.6,364.2 383.2,370.1 382.8,370.1 382.4,370.1 382.0,370.1 381.6,370.1 381.2,367.1 380.8,363.1 380.4,361.1 380.0,360.9 379.6,360.6 379.2,360.4 378.8,367.4 378.4,367.2 378.0,367.0 377.6,366.8 377.2,366.6 376.8,365.7 376.4,364.3 376.0,362.9 375.6,361.5 375.2,356.1 374.8,342.2 374.4,340.8 374.0,339.5 373.6,338.7 373.2,338.1 372.8,337.5 372.4,338.1 372.0,339.7 371.6,340.9 371.2,341.1 370.8,341.3 370.4,341.5 370.0,341.7 369.6,342.0 369.2,342.2 368.8,342.3 368.4,342.3 368.0,342.4 367.6,342.4 367.2,342.5 366.8,342.5 366.4,342.6 366.0,343.0 365.6,343.4 365.2,343.8 364.8,344.2 364.4,344.7 364.0,345.4 363.6,346.1 363.2,346.7 362.8,347.4 362.4,348.1 362.0,348.7 361.6,349.0 361.2,349.2 360.8,349.4 360.4,349.6 360.0,349.3 359.6,348.5 359.2,347.7 358.8,346.9 358.4,346.1 358.0,345.0 357.6,343.9 357.2,342.8 356.8,341.7 356.4,317.3 356.0,312.6 355.6,308.0 355.2,303.3 354.8,298.6 354.4,294.0 354.0,289.8 353.6,285.8 353.2,282.8 352.8,284.8 352.4,286.8 352.0,289.7 351.6,293.5 351.2,297.4 350.8,298.0 350.4,297.8 350.0,297.7 349.6,296.6 349.2,292.9 348.8,289.2 348.4,281.7 348.0,271.7 347.6,262.3 347.2,252.9 346.8,246.4 346.4,253.7 346.0,261.0 345.6,265.0 345.2,265.7 344.8,266.4 344.4,271.4 344.0,277.3 343.6,282.1 343.2,281.9 342.8,281.7 342.4,282.0 342.0,282.9 341.6,283.8 341.2,294.5 340.8,327.5 340.4,339.5 340.0,343.5 339.6,350.1 339.2,357.5 338.8,357.4 338.4,357.3 338.0,357.1 337.6,355.6 337.2,353.6 336.8,351.5 336.4,349.5 336.0,347.5 335.6,345.6 335.2,343.6 334.8,341.7 334.4,339.7 334.0,337.8 333.6,332.5 333.2,328.4 332.8,327.8 332.4,327.2 332.0,326.6 331.6,319.3 331.2,319.5 330.8,324.8 330.4,325.5 330.0,328.3 329.6,331.1 329.2,333.1 328.8,332.8 328.4,332.4 328.0,332.1 327.6,331.8 327.2,331.7 326.8,332.3 326.4,332.9 326.0,333.5 325.6,333.3 325.2,333.2 324.8,333.0 324.4,336.0 324.0,340.1 323.6,344.2 323.2,347.3 322.8,347.7 322.4,348.1 322.0,348.5 321.6,354.5 321.2,360.0 320.8,364.0 320.4,368.0 320.0,369.0 319.6,369.4 319.2,369.8 318.8,370.2 318.4,370.8 318.0,371.4 317.6,372.0 317.2,372.6 316.8,372.8 316.4,373.0 316.0,373.2 315.6,373.4 315.2,375.2 314.8,377.2 314.4,379.2 314.0,381.2 313.6,382.1 313.2,382.9 312.8,383.7 312.4,384.5 312.0,386.0 311.6,387.6 311.2,389.2 310.8,390.8 310.4,392.8 310.0,394.8 309.6,396.8 309.2,400.3 308.8,404.6 308.4,407.9 308.0,408.0 307.6,408.1 307.2,408.2 306.8,408.2 306.4,407.9 306.0,407.6 305.6,407.3 305.2,406.7 304.8,405.5 304.4,404.3 304.0,403.1 303.6,402.0 303.2,401.2 302.8,400.4 302.4,399.6 302.0,398.9 301.6,398.5 301.2,398.1 300.8,397.7 300.4,398.0 300.0,400.0 299.6,402.0 299.2,404.0 298.8,405.2 298.4,406.5 298.0,407.7 297.6,407.0 297.2,406.0 296.8,410.9 296.4,422.1 296.0,423.3 295.6,423.2 295.2,423.2 294.8,423.1 294.4,422.0 294.0,410.6 293.6,399.3 293.2,395.3 292.8,394.5 292.4,393.7 292.0,392.9 291.6,392.9 291.2,393.2 290.8,393.6 290.4,393.9 290.0,394.2 289.6,400.6 289.2,407.6 288.8,411.0 288.4,410.8 288.0,410.7 287.6,410.5 287.2,410.4 286.8,410.3 286.4,350.9 286.0,348.3 285.6,343.6 285.2,339.0 284.8,334.4 284.4,331.2 284.0,328.0 283.6,325.5 283.2,323.9 282.8,322.3 282.4,324.4 282.0,327.6 281.6,331.0 281.2,335.8 280.8,340.6 280.4,345.4 280.0,351.7 279.6,363.2 279.2,363.4 278.8,363.7 278.4,364.7 278.0,370.7 277.6,373.4 277.2,373.2 276.8,373.1 276.4,372.9 276.0,372.7 275.6,369.5 275.2,365.1 274.8,362.8 274.4,364.4 274.0,366.0 273.6,367.6 273.2,369.6 272.8,372.3 272.4,374.9 272.0,377.6 271.6,380.3 271.2,384.2 270.8,389.2 270.4,394.2 270.0,401.3 269.6,412.3 269.2,415.2 268.8,415.5 268.4,415.7 268.0,415.3 267.6,414.3 267.2,413.3 266.8,412.7 266.4,413.0 266.0,413.2 265.6,413.4 265.2,412.9 264.8,412.4 264.4,411.9 264.0,412.3 263.6,412.8 263.2,413.3 262.8,415.0 262.4,417.0 262.0,419.0 261.6,420.5 261.2,421.8 260.8,423.0 260.4,423.2 260.0,421.5 259.6,419.9 259.2,412.7 258.8,405.3 258.4,401.6 258.0,400.4 257.6,399.2 257.2,398.0 256.8,398.3 256.4,399.8 256.0,401.3 255.6,404.6 255.2,410.6 254.8,416.6 254.4,422.4 254.0,427.4 253.6,432.4 253.2,433.2 252.8,433.0 252.4,432.7 252.0,429.4 251.6,424.1 251.2,418.9 250.8,414.4 250.4,409.9 250.0,405.4 249.6,399.2 249.2,393.0 248.8,386.8 248.4,383.8 248.0,383.7 247.6,383.5 247.2,383.4 246.8,383.3 246.4,383.1 246.0,383.0 245.6,387.9 245.2,393.5 244.8,395.4 244.4,395.4 244.0,395.4 243.6,395.4 243.2,394.7 242.8,391.5 242.4,388.3 242.0,386.7 241.6,385.1 241.2,384.8 240.8,384.8 240.4,384.8 240.0,384.8 239.6,384.8 239.2,384.8 238.8,385.1 238.4,387.7 238.0,388.3 237.6,388.3 237.2,388.3 236.8,388.3 236.4,388.0 236.0,387.1 235.6,386.1 235.2,388.6 234.8,391.6 234.4,394.6 234.0,415.0 233.6,430.5 233.2,430.5 232.8,430.5 232.4,430.5 232.0,430.5 231.6,430.5 231.2,416.7 230.8,395.9 230.4,396.0 230.0,396.1 229.6,396.3 229.2,396.4 228.8,396.5 228.4,405.7 228.0,423.7 227.6,423.7 227.2,423.7 226.8,423.7 226.4,423.7 226.0,423.7 225.6,419.3 225.2,413.8 224.8,413.6 224.4,413.4 224.0,419.4 223.6,438.1 223.2,438.1 222.8,438.1 222.4,438.1 222.0,438.1 221.6,438.1 221.2,438.1 220.8,438.1 220.4,438.1 220.0,438.1 219.6,438.1 219.2,438.1 218.8,434.5 218.4,430.4 218.0,430.2 217.6,430.1 217.2,429.9 216.8,427.6 216.4,422.8 216.0,418.0 215.6,413.2 215.2,412.0 214.8,412.6 214.4,413.1 214.0,413.6 213.6,414.2 213.2,414.8 212.8,419.6 212.4,423.7 212.0,423.7 211.6,423.7 211.2,423.7 210.8,423.7 210.4,423.7 210.0,423.7 209.6,423.7 209.2,427.0 208.8,432.6 208.4,438.2 208.0,443.8 207.6,449.7 207.2,451.7 206.8,451.7 206.4,451.7 206.0,451.7 205.6,451.7 205.2,451.7 204.8,451.7 204.4,451.7 204.0,451.7 203.6,451.7 203.2,451.7 202.8,451.7 202.4,440.2 202.0,437.3 201.6,437.3 201.2,437.3 200.8,437.3 200.4,437.3 200.0,437.3 199.6,437.3 199.2,437.3 198.8,437.3 198.4,437.3 198.0,437.3 197.6,440.7 197.2,447.0 196.8,451.7 196.4,451.7 196.0,451.7 195.6,451.7 195.2,451.7 194.8,451.7 194.4,451.7 194.0,451.7 193.6,435.9 193.2,434.9 192.8,434.7 192.4,434.6 192.0,434.4 191.6,435.0 191.2,436.7 190.8,438.1 190.4,438.1 190.0,438.1 189.6,438.1 189.2,438.1 188.8,435.5 188.4,434.9 188.0,434.8 187.6,434.6 187.2,434.5 186.8,434.3 186.4,442.2 186.0,450.2 185.6,455.4 185.2,455.4 184.8,455.4 184.4,455.4 184.0,455.4 183.6,455.4 183.2,453.4 182.8,451.2 182.4,450.5 182.0,449.7 181.6,448.5 181.2,446.4 180.8,444.3 180.4,442.1 180.0,440.0 179.6,438.8 179.2,438.0 178.8,437.2 178.4,434.9 178.0,431.5 177.6,429.9 177.2,443.1 176.8,448.7 176.4,450.7 176.0,452.3 175.6,453.9 175.2,454.5 174.8,454.9 174.4,455.3 174.0,455.7 173.6,456.1 173.2,456.5 172.8,458.8 172.4,462.3 172.0,462.2 171.6,462.1 171.2,461.9 170.8,459.6 170.4,458.2 170.0,458.9 169.6,459.5 169.2,460.2 168.8,460.9 168.4,461.1 168.0,461.2 167.6,461.3 167.2,461.4 166.8,461.5 166.4,461.6 166.0,461.9 165.6,462.3 165.2,462.7 164.8,463.1 164.4,463.5 164.0,463.9 163.6,464.2 163.2,464.2 162.8,464.2 162.4,464.2 162.0,464.2 161.6,463.8 161.2,463.3 160.8,462.7 160.4,462.2 160.0,461.6 159.6,461.0 159.2,460.5 158.8,460.1 158.4,459.7 158.0,459.2 157.6,458.8 157.2,458.3 156.8,457.3 156.4,453.0 156.0,448.7 155.6,444.5 155.2,444.2 154.8,443.9 154.4,443.6 154.0,443.2 153.6,426.0 153.2,414.7 152.8,414.3 152.4,414.6 152.0,414.9 151.6,417.2 151.2,420.2 150.8,423.2 150.4,425.8 150.0,428.2 149.6,430.5 149.2,432.9 148.8,435.2 148.4,438.8 148.0,444.5 147.6,444.5 147.2,444.5 146.8,444.5 146.4,444.5 146.0,444.5 145.6,442.9 145.2,439.6 144.8,442.3 144.4,446.3 144.0,451.9 143.6,457.5 143.2,462.3 142.8,464.4 142.4,464.4 142.0,464.4 141.6,464.4 141.2,464.4 140.8,464.4 140.4,464.4 140.0,464.4 139.6,464.4 139.2,464.4 138.8,464.4 138.4,464.4 138.0,464.4 137.6,464.4 137.2,463.0 136.8,460.3 136.4,455.7 136.0,451.1 135.6,446.7 135.2,442.4 134.8,438.2 134.4,434.0 134.0,431.1 133.6,429.4 133.2,429.5 132.8,429.7 132.4,429.9 132.0,430.0 131.6,430.2 131.2,430.4 130.8,430.6 130.4,430.0 130.0,429.2 129.6,428.5 129.2,427.7 128.8,427.6 128.4,430.2 128.0,432.8 127.6,435.4 127.2,442.2 126.8,451.4 126.4,451.4 126.0,451.4 125.6,451.4 125.2,451.4 124.8,451.4 124.4,451.4 124.0,450.7 123.6,441.8 123.2,441.6 122.8,441.5 122.4,441.4 122.0,440.1 121.6,437.0 121.2,435.7 120.8,435.8 120.4,436.0 120.0,436.1 119.6,436.3 119.2,436.4 118.8,436.6 118.4,436.7 118.0,442.3 117.6,448.3 117.2,448.3 116.8,448.3 116.4,447.1 116.0,436.9 115.6,437.7 115.2,438.4 114.8,439.1 114.4,440.4 114.0,442.5 113.6,444.6 113.2,446.7 112.8,448.8 112.4,453.3 112.0,458.7 111.6,459.2 111.2,459.2 110.8,459.2 110.4,459.2 110.0,459.2 109.6,459.2 109.2,459.2 108.8,459.2 108.4,459.2" fill="#805fc4" stroke="#805fc4" stroke-width="1.0" stroke-linejoin="round"/>
<polyline points="529.6,440.3 530.0,441.3 530.4,441.3 530.8,441.4 531.2,441.5 531.6,441.5 532.0,441.4 532.4,441.4 532.8,441.3 533.2,441.2 533.6,441.2 534.0,441.2 534.4,441.2 534.8,441.2 535.2,441.2 535.6,441.2 536.0,441.2 536.4,441.2 536.8,441.7 537.2,442.7 537.6,443.8 538.0,444.6" fill="none" stroke="#805fc4" stroke-width="3.1" stroke-linejoin="round" stroke-linecap="round"/>
<polyline points="538.8,445.1 539.2,445.4 539.6,447.0 540.0,448.6 540.4,448.6 540.8,448.6 541.2,448.5 541.6,448.5 542.0,448.3 542.4,448.4 542.8,448.7 543.2,448.9 543.6,449.2 544.0,449.4" fill="none" stroke="#805fc4" stroke-width="3.1" stroke-linejoin="round" stroke-linecap="round"/>
<polyline points="545.2,449.9 545.6,450.1 546.0,450.0 546.4,450.3 546.8,450.5 547.2,450.8 547.6,451.0 548.0,451.1 548.4,451.3 548.8,451.4 549.2,451.6 549.6,451.6 550.0,451.6 550.4,451.5 550.8,451.5 551.2,451.4 551.6,451.3 552.0,450.7 552.4,450.1 552.8,449.5 553.2,448.5 553.6,447.2 554.0,445.9 554.4,444.6 554.8,443.3 555.2,441.9 555.6,440.6 556.0,439.3 556.4,438.0 556.8,436.7 557.2,435.4 557.6,434.1 558.0,432.8 558.4,431.5 558.8,430.2 559.2,428.9 559.6,427.6 560.0,426.3 560.4,425.0 560.8,423.7 561.2,422.4 561.6,421.1 562.0,419.8 562.4,418.6 562.8,417.3 563.2,416.0 563.6,414.7 564.0,413.4 564.4,412.1 564.8,410.8 565.2,409.5 565.6,408.2 566.0,406.9 566.4,405.6 566.8,404.3 567.2,403.0 567.6,401.7 568.0,400.4 568.4,399.1 568.8,397.8 569.2,396.5 569.6,395.2 570.0,393.9 570.4,392.9 570.8,392.2 571.2,391.6 571.6,391.2 572.0,391.0 572.4,390.8 572.8,390.7 573.2,390.7 573.6,390.6 574.0,390.6 574.4,390.6 574.8,390.6 575.2,390.6 575.6,390.5 576.0,390.4 576.4,390.3 576.8,390.2 577.2,390.1 577.6,390.0 578.0,390.0 578.4,390.3 578.8,390.5 579.2,390.8 579.6,390.8 580.0,390.6 580.4,390.4 580.8,390.2 581.2,390.0 581.6,390.2 582.0,390.9 582.4,391.7 582.8,393.6 583.2,396.4 583.6,398.4 584.0,399.9 584.4,401.4 584.8,403.6 585.2,407.1 585.6,410.5 586.0,414.8 586.4,419.7" fill="none" stroke="#805fc4" stroke-width="3.1" stroke-linejoin="round" stroke-linecap="round"/>
<polyline points="592.4,442.0 592.8,447.7 593.2,459.5 593.6,462.3 594.0,462.9 594.4,463.5 594.8,463.7 595.2,463.7 595.6,463.8 596.0,463.8 596.4,463.8 596.8,463.8 597.2,463.8 597.6,463.9 598.0,463.9 598.4,463.9 598.8,463.9 599.2,463.9 599.6,464.0 600.0,464.0 600.4,464.0 600.8,464.0 601.2,464.0 601.6,463.9 602.0,463.9 602.4,463.8 602.8,463.8 603.2,463.7 603.6,463.7 604.0,463.6 604.4,463.6 604.8,463.5 605.2,463.5 605.6,463.4 606.0,463.4 606.4,463.4 606.8,463.4 607.2,463.4 607.6,463.4 608.0,463.4 608.4,463.4 608.8,463.4 609.2,463.4 609.6,463.4 610.0,463.4 610.4,463.4 610.8,463.5 611.2,463.6 611.6,463.7 612.0,463.8 612.4,463.9 612.8,464.1 613.2,464.2 613.6,464.3 614.0,464.3 614.4,464.3 614.8,464.3 615.2,464.4 615.6,464.4 616.0,464.4 616.4,464.4 616.8,464.4 617.2,464.4 617.6,464.4 618.0,464.4 618.4,464.4 618.8,464.4 619.2,464.3 619.6,464.3 620.0,464.3 620.4,464.3 620.8,464.3 621.2,464.2 621.6,464.2 622.0,464.2 622.4,464.1 622.8,464.1 623.2,464.0 623.6,464.0 624.0,464.0 624.4,463.9 624.8,463.9 625.2,463.8 625.6,463.8 626.0,463.8 626.4,463.7 626.8,463.7 627.2,463.7 627.6,463.7 628.0,463.7 628.4,463.7 628.8,463.7 629.2,463.7 629.6,463.7 630.0,463.7 630.4,463.7 630.8,463.7 631.2,463.7 631.6,463.7 632.0,463.8 632.4,463.8 632.8,463.9 633.2,464.0 633.6,464.0 634.0,464.1 634.4,464.1 634.8,464.2 635.2,464.2 635.6,464.3 636.0,464.3 636.4,464.3 636.8,464.3 637.2,464.3 637.6,464.3 638.0,464.3 638.4,464.3 638.8,464.3 639.2,464.3 639.6,464.3 640.0,464.3 640.4,464.3 640.8,464.3 641.2,464.3 641.6,464.3 642.0,464.3 642.4,464.3 642.8,464.3 643.2,464.3 643.6,464.3 644.0,464.3 644.4,464.2 644.8,464.2 645.2,464.2 645.6,464.2 646.0,464.2 646.4,464.1 646.8,464.1 647.2,464.1 647.6,464.1 648.0,464.1 648.4,464.0 648.8,464.0 649.2,464.0 649.6,464.0 650.0,464.0 650.4,464.0 650.8,464.0 651.2,464.0 651.6,464.0 652.0,464.0 652.4,464.0 652.8,464.0 653.2,464.0 653.6,464.0 654.0,464.0 654.4,464.0 654.8,464.0 655.2,464.0 655.6,464.0 656.0,464.0 656.4,464.0" fill="none" stroke="#805fc4" stroke-width="3.1" stroke-linejoin="round" stroke-linecap="round"/>
<line x1="387.3" y1="275.4" x2="387.3" y2="346.9" stroke="#805fc4" stroke-width="2.8" stroke-linecap="round"/>
<line x1="395.9" y1="236.6" x2="395.9" y2="361.6" stroke="#805fc4" stroke-width="2.8" stroke-linecap="round"/>
<g><line x1="108.0" y1="462" x2="108.0" y2="470.2" stroke="#0a0a0a" stroke-width="2.2" opacity="0.45"/><line x1="153.0" y1="462" x2="153.0" y2="470.2" stroke="#0a0a0a" stroke-width="2.2" opacity="0.45"/><line x1="198.0" y1="462" x2="198.0" y2="470.2" stroke="#0a0a0a" stroke-width="2.2" opacity="0.45"/><line x1="243.0" y1="462" x2="243.0" y2="470.2" stroke="#0a0a0a" stroke-width="2.2" opacity="0.45"/><line x1="288.0" y1="462" x2="288.0" y2="470.2" stroke="#0a0a0a" stroke-width="2.2" opacity="0.45"/><line x1="333.0" y1="462" x2="333.0" y2="470.2" stroke="#0a0a0a" stroke-width="2.2" opacity="0.45"/><line x1="378.0" y1="462" x2="378.0" y2="470.2" stroke="#0a0a0a" stroke-width="2.2" opacity="0.45"/><line x1="423.0" y1="462" x2="423.0" y2="470.2" stroke="#0a0a0a" stroke-width="2.2" opacity="0.45"/><line x1="468.0" y1="462" x2="468.0" y2="470.2" stroke="#0a0a0a" stroke-width="2.2" opacity="0.45"/><line x1="513.0" y1="462" x2="513.0" y2="470.2" stroke="#0a0a0a" stroke-width="2.2" opacity="0.45"/><line x1="558.0" y1="462" x2="558.0" y2="470.2" stroke="#0a0a0a" stroke-width="2.2" opacity="0.45"/><line x1="603.0" y1="462" x2="603.0" y2="470.2" stroke="#0a0a0a" stroke-width="2.2" opacity="0.45"/><line x1="648.0" y1="462" x2="648.0" y2="470.2" stroke="#0a0a0a" stroke-width="2.2" opacity="0.45"/></g>
<text x="108.0" y="488.9" font-size="14.6" font-weight="bold" fill="#1e1e1e" text-anchor="middle" textLength="30.4" lengthAdjust="spacingAndGlyphs">1955</text>
<text x="153.0" y="488.9" font-size="14.6" font-weight="bold" fill="#1e1e1e" text-anchor="middle" textLength="30.4" lengthAdjust="spacingAndGlyphs">1960</text>
<text x="198.0" y="488.9" font-size="14.6" font-weight="bold" fill="#1e1e1e" text-anchor="middle" textLength="30.4" lengthAdjust="spacingAndGlyphs">1965</text>
<text x="243.0" y="488.9" font-size="14.6" font-weight="bold" fill="#1e1e1e" text-anchor="middle" textLength="30.4" lengthAdjust="spacingAndGlyphs">1970</text>
<text x="288.0" y="488.9" font-size="14.6" font-weight="bold" fill="#1e1e1e" text-anchor="middle" textLength="30.4" lengthAdjust="spacingAndGlyphs">1975</text>
<text x="333.0" y="488.9" font-size="14.6" font-weight="bold" fill="#1e1e1e" text-anchor="middle" textLength="30.4" lengthAdjust="spacingAndGlyphs">1980</text>
<text x="378.0" y="488.9" font-size="14.6" font-weight="bold" fill="#1e1e1e" text-anchor="middle" textLength="30.4" lengthAdjust="spacingAndGlyphs">1985</text>
<text x="423.0" y="488.9" font-size="14.6" font-weight="bold" fill="#1e1e1e" text-anchor="middle" textLength="30.4" lengthAdjust="spacingAndGlyphs">1990</text>
<text x="468.0" y="488.9" font-size="14.6" font-weight="bold" fill="#1e1e1e" text-anchor="middle" textLength="30.4" lengthAdjust="spacingAndGlyphs">1995</text>
<text x="513.0" y="488.9" font-size="14.6" font-weight="bold" fill="#1e1e1e" text-anchor="middle" textLength="30.4" lengthAdjust="spacingAndGlyphs">2000</text>
<text x="558.0" y="488.9" font-size="14.6" font-weight="bold" fill="#1e1e1e" text-anchor="middle" textLength="30.4" lengthAdjust="spacingAndGlyphs">2005</text>
<text x="603.0" y="488.9" font-size="14.6" font-weight="bold" fill="#1e1e1e" text-anchor="middle" textLength="30.4" lengthAdjust="spacingAndGlyphs">2010</text>
<text x="648.0" y="488.9" font-size="14.6" font-weight="bold" fill="#1e1e1e" text-anchor="middle" textLength="30.4" lengthAdjust="spacingAndGlyphs">2015</text>
<text x="447.9" y="150.5" font-size="20.2" font-weight="bold" fill="#ef3836" stroke="#ef3836" stroke-width="0.35" textLength="37.4" lengthAdjust="spacingAndGlyphs">End</text>
<text x="490.4" y="150.5" font-size="20.2" font-weight="bold" fill="#ef3836" stroke="#ef3836" stroke-width="0.35" textLength="20.2" lengthAdjust="spacingAndGlyphs">of</text>
<text x="516.4" y="150.5" font-size="20.2" font-weight="bold" fill="#ef3836" stroke="#ef3836" stroke-width="0.35" textLength="129.6" lengthAdjust="spacingAndGlyphs">zero-interest</text>
<text x="541.3" y="172.1" font-size="20.2" font-weight="bold" fill="#ef3836" stroke="#ef3836" stroke-width="0.35" textLength="37.6" lengthAdjust="spacingAndGlyphs">rate</text>
<text x="586.7" y="172.1" font-size="20.2" font-weight="bold" fill="#ef3836" stroke="#ef3836" stroke-width="0.35" textLength="58.9" lengthAdjust="spacingAndGlyphs">policy</text>
<rect x="653.8" y="140.4" width="4.4" height="295" fill="#ef3836"/>
<polygon points="644.8,433.6 667.2,433.6 655.9,452.6" fill="#ef3836"/>
<text x="56.0" y="524.1" font-size="9.8" font-weight="bold" font-style="italic" fill="#1e1e1e" stroke="#1e1e1e" stroke-width="0.2" textLength="32.9" lengthAdjust="spacingAndGlyphs">SOURCE:</text>
<text x="91.2" y="524.1" font-size="9.8" fill="#1e1e1e" stroke="#1e1e1e" stroke-width="0.12" textLength="164.8" lengthAdjust="spacingAndGlyphs">Federal Reserve Board of Governors via FRED</text>
<rect x="617.3" y="515" width="75.8" height="11.1" fill="#1e5f7e"/>
<text class="serif" x="621.8" y="523.7" font-size="8.8" font-weight="bold" fill="#ffffff" textLength="66.4" lengthAdjust="spacingAndGlyphs">B<tspan font-size="7.0">USINESS</tspan> I<tspan font-size="7.0">NSIDER</tspan></text>
<text class="serif" x="12.6" y="550.3" font-size="17.2" fill="#295670" stroke="#295670" stroke-width="0.35" textLength="140.4" lengthAdjust="spacingAndGlyphs">B<tspan font-size="14.2">USINESS</tspan> I<tspan font-size="14.2">NSIDER</tspan></text>
</svg>
</body></html>
